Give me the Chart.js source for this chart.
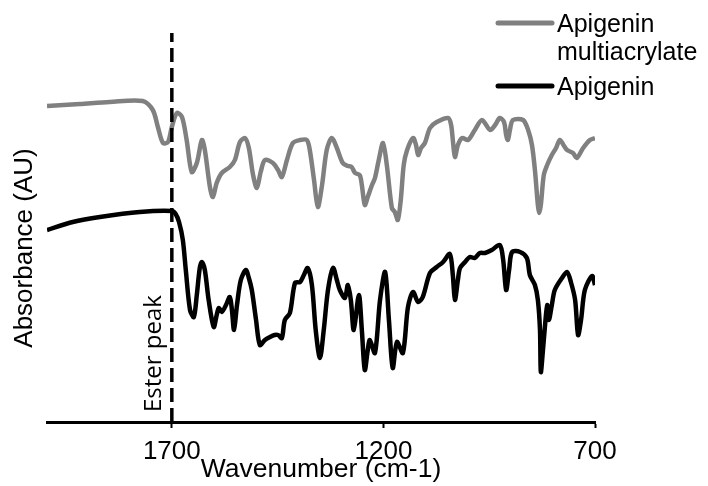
<!DOCTYPE html>
<html>
<head>
<meta charset="utf-8">
<script src="https://cdn.jsdelivr.net/npm/chart.js@4.4.0/dist/chart.umd.min.js"></script>
<style>
  html, body { margin: 0; padding: 0; background: #ffffff; }
</style>
</head>
<body>
<canvas id="myChart" width="708" height="486"></canvas>
<script>
// ticks de l'axe x (nombre d'onde, axe inversé)
const xTicks = [1700, 1200, 700];
const xMin = 1995;
const xMax = 700;

// ligne du pic ester
const esterPeak = 1700;
const esterLine = [0, 3.89];
const esterLabel = 'Ester peak';

const seriesNames = ['Apigenin multiacrylate', 'Apigenin'];
const legendLines = [['Apigenin', 'multiacrylate'], ['Apigenin']];

// Apigenin multiacrylate (gris)
const multiWn = [1995, 1917, 1847, 1769, 1745, 1733, 1721, 1709, 1700, 1688, 1676, 1665, 1653, 1641, 1629, 1622,
  1610, 1603, 1594, 1582, 1563, 1551, 1539, 1527, 1518, 1508, 1499, 1490, 1480, 1461, 1449, 1440, 1428, 1414,
  1397, 1381, 1374, 1364, 1355, 1345, 1334, 1322, 1310, 1296, 1284, 1275, 1267, 1256, 1251, 1244, 1237, 1227,
  1220, 1211, 1201, 1192, 1180, 1173, 1166, 1159, 1152, 1144, 1130, 1123, 1118, 1111, 1102, 1090, 1074, 1047,
  1040, 1036, 1031, 1024, 1014, 1000, 984, 967, 948, 936, 925, 915, 910, 906, 901, 894, 870, 858, 849, 842,
  835, 832, 828, 821, 813, 802, 792, 783, 773, 766, 752, 743, 728, 712, 700];
const multiAbs = [3.16, 3.18, 3.20, 3.21, 3.12, 2.95, 2.79, 2.80, 2.95, 3.09, 3.05, 2.82, 2.50, 2.59, 2.82, 2.72,
  2.35, 2.25, 2.39, 2.49, 2.55, 2.62, 2.80, 2.84, 2.74, 2.47, 2.34, 2.50, 2.62, 2.59, 2.52, 2.45, 2.62, 2.79,
  2.82, 2.82, 2.72, 2.42, 2.15, 2.37, 2.72, 2.84, 2.74, 2.59, 2.56, 2.55, 2.49, 2.47, 2.37, 2.17, 2.25, 2.37,
  2.44, 2.62, 2.79, 2.57, 2.14, 2.10, 2.02, 2.22, 2.57, 2.72, 2.84, 2.77, 2.67, 2.74, 2.79, 2.94, 3.00, 3.04,
  2.97, 2.82, 2.65, 2.77, 2.84, 2.82, 2.92, 3.02, 2.92, 2.97, 3.04, 3.00, 2.87, 2.82, 2.92, 3.02, 3.02, 2.92, 2.77, 2.52,
  2.17, 2.09, 2.17, 2.47, 2.57, 2.67, 2.74, 2.82, 2.76, 2.72, 2.69, 2.64, 2.74, 2.82, 2.84];

// Apigenin (noir)
const apiWn = [1995, 1934, 1870, 1776, 1700, 1691, 1683, 1674, 1667, 1657, 1648, 1641, 1634, 1629, 1622, 1613,
  1601, 1594, 1589, 1582, 1572, 1563, 1558, 1553, 1546, 1537, 1525, 1518, 1511, 1501, 1492, 1480, 1468, 1457,
  1449, 1440, 1433, 1421, 1409, 1397, 1388, 1379, 1369, 1360, 1350, 1341, 1331, 1319, 1310, 1303, 1291, 1284,
  1277, 1270, 1258, 1251, 1244, 1237, 1232, 1220, 1208, 1196, 1187, 1178, 1168, 1154, 1142, 1130, 1118, 1107,
  1090, 1074, 1059, 1043, 1036, 1031, 1024, 1019, 1007, 996, 984, 972, 960, 944, 925, 917, 910, 903, 896, 877,
  861, 854, 842, 835, 830, 828, 823, 818, 813, 809, 802, 795, 778, 766, 757, 747, 740, 733, 724, 707, 700];
const apiAbs = [1.92, 2.00, 2.05, 2.10, 2.11, 2.08, 2.00, 1.82, 1.52, 1.12, 1.05, 1.27, 1.54, 1.60, 1.52, 1.22,
  0.95, 1.07, 1.14, 1.10, 1.17, 1.25, 1.12, 0.92, 1.17, 1.42, 1.52, 1.44, 1.32, 1.02, 0.77, 0.82, 0.85, 0.87,
  0.87, 0.84, 1.02, 1.09, 1.39, 1.40, 1.47, 1.54, 1.37, 0.92, 0.64, 0.92, 1.32, 1.54, 1.42, 1.32, 1.24, 1.37,
  1.22, 0.92, 1.27, 0.92, 0.52, 0.72, 0.82, 0.69, 1.22, 1.50, 1.02, 0.54, 0.80, 0.69, 1.15, 1.30, 1.20, 1.25,
  1.49, 1.55, 1.60, 1.68, 1.47, 1.22, 1.42, 1.54, 1.60, 1.65, 1.64, 1.69, 1.69, 1.72, 1.77, 1.62, 1.32, 1.52, 1.70, 1.70,
  1.64, 1.47, 1.37, 1.22, 0.92, 0.50, 0.72, 0.97, 1.17, 1.02, 1.17, 1.32, 1.44, 1.50, 1.40, 1.22, 0.87, 1.02, 1.32, 1.46, 1.37];

const arial = 'Liberation Sans, Arial, sans-serif';

function toPoints(xs, ys) {
    return xs.map((x, i) => ({ x: x, y: ys[i] }));
}

// légende et texte "Ester peak" dessinés à la main
const extras = {
    id: 'extras',
    afterDraw(chart) {
        const ctx = chart.ctx;
        const xs = chart.scales.x;
        ctx.save();
        // légende (datasets 1 et 2, le 0 est la ligne pointillée)
        ctx.font = '25px ' + arial;
        ctx.fillStyle = '#000000';
        ctx.textAlign = 'left';
        ctx.textBaseline = 'alphabetic';
        [0, 1].forEach((i) => {
            const ds = chart.data.datasets[i + 1];
            const y = 23 + i * 63;
            ctx.strokeStyle = ds.borderColor;
            ctx.lineWidth = 5;
            ctx.lineCap = 'round';
            ctx.beginPath();
            ctx.moveTo(498, y);
            ctx.lineTo(552, y);
            ctx.stroke();
            legendLines[i].forEach((line, k) => {
                ctx.fillText(line, 557, y + 9 + k * 28);
            });
        });
        // texte du pic ester
        const px = xs.getPixelForValue(esterPeak);
        ctx.translate(px - 11, 412);
        ctx.rotate(-Math.PI / 2);
        ctx.font = '24px "Open Sans"';
        ctx.fillText(esterLabel, 0, 0);
        ctx.restore();
    }
};

const chart = new Chart(
    document.getElementById('myChart'),
    {
        type: 'line',
        data: {
            datasets: [
                {
                    label: 'Ester peak line',
                    data: toPoints([esterPeak, esterPeak], esterLine),
                    borderColor: '#000000',
                    borderWidth: 3.5,
                    borderDash: [14, 6],
                    pointRadius: 0,
                    clip: false,
                    order: 0
                },
                {
                    label: seriesNames[0],
                    data: toPoints(multiWn, multiAbs),
                    borderColor: '#808080',
                    borderWidth: 4.5,
                    pointRadius: 0,
                    tension: 0.3,
                    order: 2
                },
                {
                    label: seriesNames[1],
                    data: toPoints(apiWn, apiAbs),
                    borderColor: '#000000',
                    borderWidth: 4.5,
                    pointRadius: 0,
                    tension: 0.3,
                    order: 1
                }
            ]
        },
        options: {
            responsive: false,
            animation: false,
            devicePixelRatio: 1,
            layout: {
                padding: { left: 0, right: 113, top: 74, bottom: 0 }
            },
            plugins: {
                legend: { display: false },
                tooltip: { enabled: false }
            },
            scales: {
                x: {
                    type: 'linear',
                    reverse: true,
                    min: xMax,
                    max: xMin,
                    afterBuildTicks: (scale) => {
                        scale.ticks = xTicks.map((v) => ({ value: v }));
                    },
                    afterFit: (scale) => { scale.height = 64; },
                    border: { display: true, color: '#000000', width: 3 },
                    grid: {
                        drawOnChartArea: false,
                        drawTicks: true,
                        tickLength: 6,
                        tickWidth: 2,
                        tickColor: '#000000'
                    },
                    ticks: {
                        color: '#000000',
                        padding: 8,
                        maxRotation: 0,
                        autoSkip: false,
                        callback: (v) => String(v),
                        font: { size: 26, family: arial }
                    },
                    title: {
                        display: true,
                        text: 'Wavenumber (cm-1)',
                        color: '#000000',
                        padding: 0,
                        font: { size: 26.5, family: arial }
                    }
                },
                y: {
                    min: 0,
                    max: 3.48,
                    afterFit: (scale) => { scale.width = 47; },
                    border: { display: false },
                    grid: { display: false },
                    ticks: { display: false },
                    title: {
                        display: true,
                        text: 'Absorbance (AU)',
                        color: '#000000',
                        padding: { top: 9, bottom: 0 },
                        font: { size: 26, family: arial }
                    }
                }
            }
        },
        plugins: [extras]
    }
);
</script>
</body>
</html>
